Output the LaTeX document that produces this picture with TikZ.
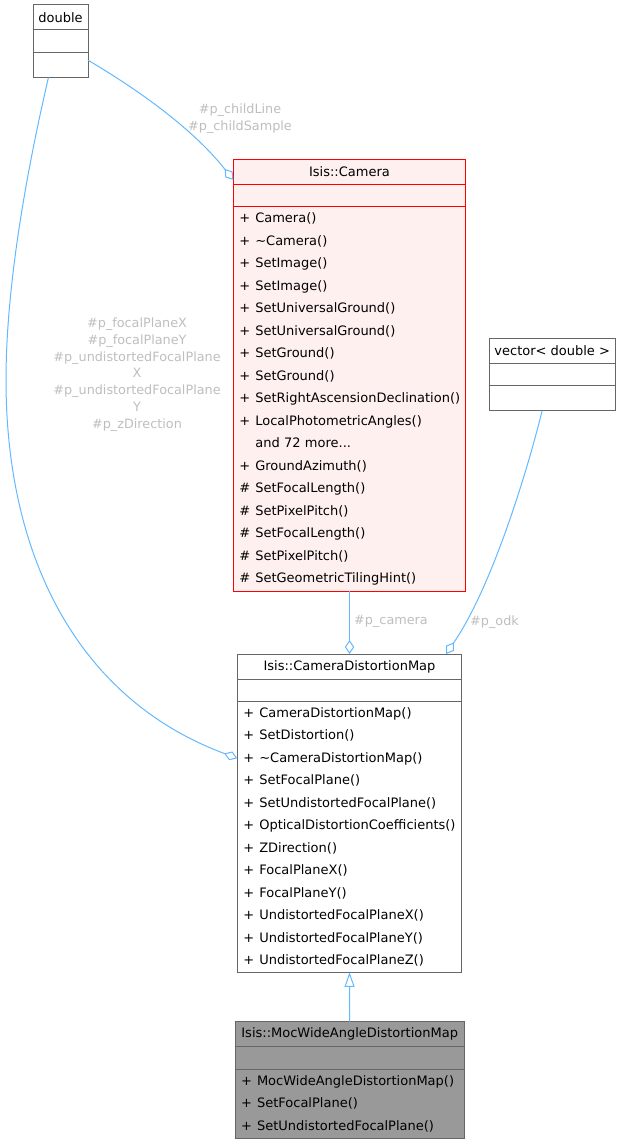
\documentclass[tikz,border=0pt]{standalone}
\usepackage{fontspec}
\setmainfont{DejaVu Sans}
\usepackage{tikz}
\usetikzlibrary{arrows.meta, positioning, calc}
\definecolor{edgeblue}{HTML}{63B8FF}
\definecolor{lblgray}{HTML}{BEBEBE}
\definecolor{boxgray}{HTML}{666666}
\definecolor{camred}{HTML}{FF0000}
\definecolor{camfill}{HTML}{FFF0F0}
\definecolor{mocfill}{HTML}{999999}
\newcommand{\dfont}{\fontsize{9.75pt}{16.875pt}\selectfont}
\newcommand{\lfont}{\fontsize{9.6pt}{12.6pt}\selectfont}
\newcommand{\vis}[1]{\makebox[12pt][l]{#1}}
\tikzset{
  hdr/.style ={rectangle, draw=boxgray, fill=white, line width=0.75pt, inner sep=0pt, outer sep=0pt, minimum height=18.75pt, font=\dfont, anchor=north},
  attr/.style={rectangle, draw=boxgray, fill=white, line width=0.75pt, inner sep=0pt, outer sep=0pt, minimum height=16.9pt},
  ops/.style ={rectangle, draw=boxgray, fill=white, line width=0.75pt, inner xsep=4.5pt, inner ysep=0pt, outer sep=0pt, align=left, font=\dfont},
  cambox/.style={draw=camred, fill=camfill},
  mocbox/.style={draw=boxgray, fill=mocfill},
  agg/.style ={draw=edgeblue, line width=0.75pt, -{Diamond[open, length=10.5pt, width=7pt]}},
  inh/.style ={draw=edgeblue, line width=0.75pt, -{Triangle[open, length=11pt, width=7.5pt]}},
  lbl/.style ={font=\lfont, text=lblgray, align=center, inner sep=0pt},
}
\begin{document}
\begin{tikzpicture}[x=0.75pt, y=-0.75pt]
  \useasboundingbox (0,0) rectangle (621,1144);

  \node[hdr, minimum width=41.25pt] (dbl) at (60.5,5) {double};
  \node[attr, below=0pt of dbl, minimum width=41.25pt] (dblA) {};
  \node[attr, below=0pt of dblA, minimum width=41.25pt, minimum height=18.75pt] (dblO) {};

  \node[hdr, cambox, minimum width=174.3pt] (cam) at (349.5,159.3) {Isis::Camera};
  \node[attr, cambox, below=0pt of cam, minimum width=174.3pt] (camA) {};
  \node[ops, cambox, below=0pt of camA, text width=165.3pt, minimum height=288.4pt] (camO) {%
    \vis{+}Camera()\\
    \vis{+}\textasciitilde Camera()\\
    \vis{+}SetImage()\\
    \vis{+}SetImage()\\
    \vis{+}SetUniversalGround()\\
    \vis{+}SetUniversalGround()\\
    \vis{+}SetGround()\\
    \vis{+}SetGround()\\
    \vis{+}SetRightAscensionDeclination()\\
    \vis{+}LocalPhotometricAngles()\\
    \vis{}and 72 more...\\
    \vis{+}GroundAzimuth()\\
    \vis{\#}SetFocalLength()\\
    \vis{\#}SetPixelPitch()\\
    \vis{\#}SetFocalLength()\\
    \vis{\#}SetPixelPitch()\\
    \vis{\#}SetGeometricTilingHint()};

  \node[hdr, minimum width=94.3pt] (vec) at (552.2,338.3) {vector< double >};
  \node[attr, below=0pt of vec, minimum width=94.3pt] (vecA) {};
  \node[attr, below=0pt of vecA, minimum width=94.3pt, minimum height=18.75pt] (vecO) {};

  \node[hdr, minimum width=168.3pt] (cdm) at (349.5,654) {Isis::CameraDistortionMap};
  \node[attr, below=0pt of cdm, minimum width=168.3pt] (cdmA) {};
  \node[ops, below=0pt of cdmA, text width=159.3pt, minimum height=203pt] (cdmO) {%
    \vis{+}CameraDistortionMap()\\
    \vis{+}SetDistortion()\\
    \vis{+}\textasciitilde CameraDistortionMap()\\
    \vis{+}SetFocalPlane()\\
    \vis{+}SetUndistortedFocalPlane()\\
    \vis{+}OpticalDistortionCoefficients()\\
    \vis{+}ZDirection()\\
    \vis{+}FocalPlaneX()\\
    \vis{+}FocalPlaneY()\\
    \vis{+}UndistortedFocalPlaneX()\\
    \vis{+}UndistortedFocalPlaneY()\\
    \vis{+}UndistortedFocalPlaneZ()};

  \node[hdr, mocbox, minimum width=172pt] (moc) at (349.7,1021.7) {Isis::MocWideAngleDistortionMap};
  \node[attr, mocbox, below=0pt of moc, minimum width=172pt] (mocA) {};
  \node[ops, mocbox, below=0pt of mocA, text width=163pt, minimum height=51.8pt] (mocO) {%
    \vis{+}MocWideAngleDistortionMap()\\
    \vis{+}SetFocalPlane()\\
    \vis{+}SetUndistortedFocalPlane()};

  \draw[agg] (dblO.10) .. controls (130,85) and (190,125) .. (cam.184);
  \draw[agg] (dblO.226) .. controls (34,140) and (6,270) .. (6,380)
             .. controls (6,560) and (80,700) .. (cdmO.145);
  \draw[agg] (camO.south) -- (cdm.north);
  \draw[agg] (vecO.231) .. controls (525,480) and (490,590) .. ($(cdm.north)+(96.5,0)$);
  \draw[inh] (moc.north) -- (cdmO.south);

  \node[lbl] (lblChild) at (240,118.5) {\#p\_childLine\\\#p\_childSample};
  \node[lbl] (lblFocal) at (137,374.5) {\#p\_focalPlaneX\\\#p\_focalPlaneY\\\#p\_undistortedFocalPlane\\X\\\#p\_undistortedFocalPlane\\Y\\\#p\_zDirection};
  \node[lbl] (lblCam) at (391,621.7) {\#p\_camera};
  \node[lbl] (lblOdk) at (494.5,621.7) {\#p\_odk};
\end{tikzpicture}
\end{document}
